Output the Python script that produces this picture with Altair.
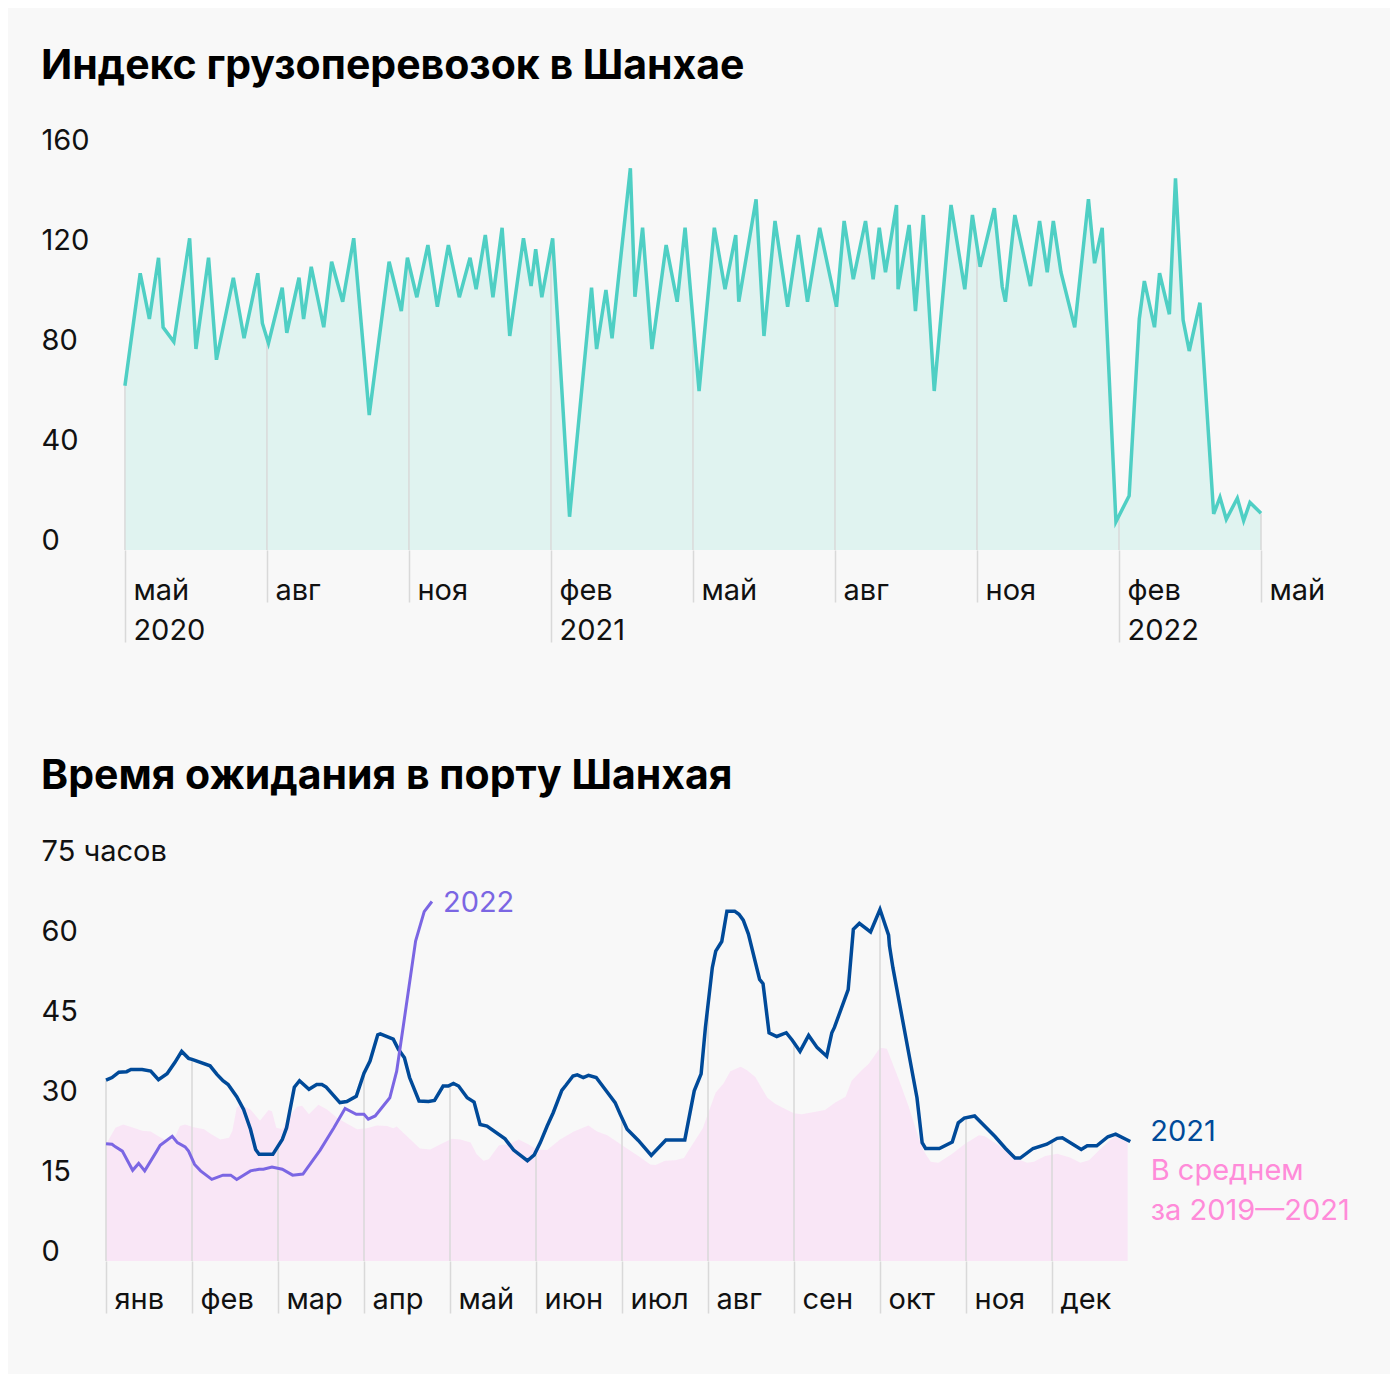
import calendar
import json

import altair as alt
import numpy as np
import pandas as pd

FONT = "Inter"
BG = "#f8f8f8"
TXT = "#111111"
GRID = "#d9d9d9"
TEAL = "#4fcfc4"
TEAL_FILL = "#e0f3f0"
BLUE = "#004a99"
PURPLE = "#7b66e3"
PINK_FILL = "#f9e6f6"
PINK_TXT = "#ff8bd9"

# ---------------- Top chart: freight index (dates, values) ----------------
freight_dates = [
    "2020-05-01", "2020-05-11", "2020-05-17", "2020-05-23", "2020-05-26",
    "2020-06-02", "2020-06-12", "2020-06-16", "2020-06-24", "2020-06-29",
    "2020-07-10", "2020-07-17", "2020-07-26", "2020-07-29", "2020-08-02",
    "2020-08-11", "2020-08-14", "2020-08-22", "2020-08-25", "2020-08-30",
    "2020-09-07", "2020-09-12", "2020-09-19", "2020-09-26", "2020-10-06",
    "2020-10-19", "2020-10-27", "2020-10-31", "2020-11-06", "2020-11-13",
    "2020-11-19", "2020-11-26", "2020-12-03", "2020-12-10", "2020-12-14",
    "2020-12-20", "2020-12-25", "2020-12-31", "2021-01-05", "2021-01-14",
    "2021-01-19", "2021-01-22", "2021-01-26", "2021-02-02", "2021-02-12",
    "2021-02-25", "2021-02-28", "2021-03-06", "2021-03-10", "2021-03-22",
    "2021-03-25", "2021-03-30", "2021-04-05", "2021-04-14", "2021-04-21",
    "2021-04-26", "2021-05-05", "2021-05-15", "2021-05-22", "2021-05-29",
    "2021-05-31", "2021-06-11", "2021-06-16", "2021-06-23", "2021-07-01",
    "2021-07-08", "2021-07-14", "2021-07-22", "2021-08-02", "2021-08-07",
    "2021-08-13", "2021-08-21", "2021-08-26", "2021-08-30", "2021-09-03",
    "2021-09-10", "2021-09-11", "2021-09-18", "2021-09-22", "2021-09-27",
    "2021-10-04", "2021-10-15", "2021-10-24", "2021-10-29", "2021-11-03",
    "2021-11-12", "2021-11-17", "2021-11-19", "2021-11-25", "2021-12-05",
    "2021-12-11", "2021-12-16", "2021-12-20", "2021-12-25", "2022-01-03",
    "2022-01-12", "2022-01-16", "2022-01-21", "2022-01-30", "2022-02-07",
    "2022-02-13", "2022-02-16", "2022-02-22", "2022-02-25", "2022-03-03",
    "2022-03-07", "2022-03-12", "2022-03-16", "2022-03-23", "2022-04-01",
    "2022-04-05", "2022-04-09", "2022-04-16", "2022-04-20", "2022-04-24",
    "2022-05-01",
]
freight_index = [
    65.7, 110.7, 92.4, 116.9, 89.1,
    83.3, 124.7, 80.4, 116.9, 76.1,
    108.9, 84.7, 110.7, 90.7, 82.7,
    104.9, 86.9, 108.9, 92.4, 113.3,
    89.1, 115.3, 99.3, 124.7, 54.0,
    115.3, 95.6, 116.9, 101.1, 122.0,
    97.3, 122.0, 101.1, 116.9, 104.3,
    126.0, 101.1, 128.9, 85.6, 124.7,
    105.6, 120.3, 101.1, 124.7, 13.3,
    104.9, 80.4, 104.0, 84.7, 152.7,
    101.3, 128.9, 80.4, 122.0, 99.3,
    128.9, 63.6, 128.9, 104.3, 126.0,
    99.3, 140.3, 85.6, 131.6, 97.3,
    126.0, 99.3, 128.9, 97.3, 131.6,
    108.3, 131.6, 108.3, 128.9, 111.1,
    138.0, 104.3, 130.0, 95.6, 134.0,
    63.6, 138.0, 104.3, 134.0, 113.3,
    136.7, 105.3, 99.3, 134.0, 105.6,
    131.6, 111.1, 131.6, 111.1, 89.1,
    140.3, 114.7, 128.9, 11.3, 21.7,
    92.4, 107.6, 89.1, 110.7, 94.3,
    148.7, 92.0, 79.6, 98.9, 14.4,
    21.1, 12.3, 20.7, 11.7, 19.0,
    14.7,
]

top_ticks = list(range(0, 25, 3))  # months since May 2020
top_tick_labels = [["май", "2020"], "авг", "ноя", ["фев", "2021"], "май",
                   "авг", "ноя", ["фев", "2022"], "май"]
top_y_ticks = [0, 40, 80, 120, 160]

# ---------------- Bottom chart: waiting time (fractional month of year) ----------------
wait21_month = [
    0.00, 0.07, 0.15, 0.24, 0.29, 0.42, 0.52, 0.61, 0.71, 0.80,
    0.88, 0.96, 1.00, 1.21, 1.29, 1.36, 1.42, 1.52, 1.60, 1.68,
    1.74, 1.78, 1.94, 2.05, 2.10, 2.19, 2.25, 2.36, 2.45, 2.51,
    2.56, 2.72, 2.80, 2.91, 3.00, 3.07, 3.16, 3.19, 3.34, 3.40,
    3.47, 3.53, 3.64, 3.75, 3.82, 3.92, 3.98, 4.04, 4.10, 4.20,
    4.28, 4.35, 4.43, 4.64, 4.74, 4.90, 4.98, 5.05, 5.13, 5.20,
    5.30, 5.35, 5.43, 5.48, 5.55, 5.61, 5.70, 5.84, 5.92, 5.98,
    6.06, 6.19, 6.34, 6.51, 6.73, 6.84, 6.92, 6.97, 7.05, 7.09,
    7.16, 7.22, 7.31, 7.36, 7.41, 7.47, 7.60, 7.64, 7.71, 7.80,
    7.91, 7.98, 8.07, 8.17, 8.27, 8.38, 8.44, 8.47, 8.63, 8.69,
    8.76, 8.89, 9.00, 9.10, 9.11, 9.15, 9.43, 9.49, 9.53, 9.69,
    9.84, 9.91, 9.98, 10.10, 10.34, 10.46, 10.57, 10.63, 10.78, 10.94,
    11.06, 11.12, 11.34, 11.41, 11.52, 11.65, 11.74, 11.91,
]
wait21_hours = [
    33.9, 34.4, 35.4, 35.5, 35.9, 35.9, 35.6, 34.0, 35.1, 37.2,
    39.3, 38.0, 37.8, 36.6, 35.0, 33.8, 33.1, 30.8, 28.4, 24.7,
    20.9, 20.0, 20.0, 22.8, 25.0, 32.6, 33.8, 32.2, 33.1, 33.1,
    32.6, 29.7, 29.9, 30.9, 35.2, 37.5, 42.4, 42.6, 41.6, 39.7,
    38.1, 34.4, 30.0, 29.9, 30.1, 32.8, 32.8, 33.3, 32.8, 30.6,
    29.8, 25.6, 25.3, 22.9, 20.8, 18.8, 19.9, 22.2, 25.3, 27.8,
    32.0, 33.0, 34.7, 34.9, 34.4, 34.8, 34.4, 31.4, 29.7, 27.5,
    24.7, 22.6, 19.8, 22.7, 22.7, 31.9, 35.1, 43.8, 55.0, 58.1,
    59.9, 65.6, 65.6, 65.0, 63.9, 61.3, 52.8, 52.0, 42.8, 42.1,
    42.8, 41.4, 39.3, 42.3, 40.0, 38.4, 42.8, 43.8, 50.9, 62.2,
    63.3, 61.7, 65.9, 61.1, 59.1, 55.0, 30.6, 22.2, 21.1, 21.1,
    22.3, 25.9, 26.8, 27.2, 23.3, 21.1, 19.3, 19.3, 21.1, 21.9,
    23.0, 23.1, 20.9, 21.6, 21.6, 23.3, 23.8, 22.4,
]
wait22_month = [
    0.00, 0.07, 0.11, 0.19, 0.31, 0.38, 0.45, 0.59, 0.63, 0.77,
    0.83, 0.92, 0.96, 1.03, 1.10, 1.23, 1.36, 1.45, 1.52, 1.68,
    1.78, 1.83, 1.93, 2.05, 2.17, 2.29, 2.49, 2.65, 2.78, 2.91,
    3.00, 3.05, 3.13, 3.30, 3.38, 3.46, 3.60, 3.70, 3.79,
]
wait22_hours = [
    22.0, 21.9, 21.4, 20.6, 17.0, 18.3, 16.9, 20.6, 21.7, 23.4,
    22.2, 21.4, 20.6, 18.1, 16.9, 15.3, 16.1, 16.1, 15.3, 16.9,
    17.2, 17.2, 17.6, 17.2, 16.1, 16.3, 20.8, 25.0, 28.6, 27.5,
    27.5, 26.6, 27.2, 30.6, 35.6, 44.4, 60.0, 65.5, 67.4,
]
avg_month = [
    0.00, 0.11, 0.20, 0.32, 0.42, 0.52, 0.61, 0.71, 0.79, 0.86,
    0.92, 1.02, 1.14, 1.21, 1.33, 1.43, 1.47, 1.52, 1.56, 1.68,
    1.79, 1.89, 1.93, 1.98, 2.05, 2.10, 2.22, 2.28, 2.36, 2.47,
    2.57, 2.69, 2.80, 2.92, 3.03, 3.15, 3.27, 3.34, 3.38, 3.54,
    3.65, 3.77, 3.89, 4.02, 4.12, 4.24, 4.31, 4.39, 4.45, 4.57,
    4.68, 4.80, 4.91, 5.01, 5.13, 5.28, 5.44, 5.61, 5.71, 5.83,
    5.92, 6.04, 6.19, 6.33, 6.39, 6.50, 6.62, 6.72, 6.81, 6.94,
    7.01, 7.09, 7.18, 7.26, 7.38, 7.45, 7.55, 7.69, 7.78, 7.92,
    8.00, 8.09, 8.25, 8.36, 8.48, 8.60, 8.67, 8.79, 8.87, 9.00,
    9.08, 9.22, 9.33, 9.45, 9.51, 9.59, 9.68, 9.84, 9.99, 10.15,
    10.22, 10.38, 10.55, 10.71, 10.79, 10.92, 11.06, 11.21, 11.33, 11.43,
    11.55, 11.67, 11.74, 11.88,
]
avg_hours = [
    21.9, 25.0, 25.6, 25.0, 24.4, 24.3, 23.4, 22.5, 22.8, 25.3,
    25.6, 25.1, 24.7, 23.9, 22.8, 23.1, 24.4, 28.8, 29.3, 28.4,
    26.3, 28.3, 28.1, 25.0, 24.7, 26.4, 28.9, 29.1, 27.5, 29.3,
    28.4, 26.8, 25.8, 24.7, 24.9, 25.4, 25.3, 24.9, 25.2, 22.8,
    21.1, 20.9, 21.9, 22.9, 22.8, 22.2, 20.0, 18.8, 19.1, 21.7,
    21.9, 22.8, 21.9, 20.9, 20.8, 22.8, 24.3, 25.4, 24.3, 23.6,
    22.6, 21.3, 19.7, 18.1, 18.0, 18.8, 18.9, 19.3, 21.6, 24.9,
    28.1, 31.6, 33.3, 35.6, 36.4, 35.8, 34.5, 30.6, 29.5, 28.3,
    27.7, 27.5, 28.0, 28.3, 29.7, 30.8, 33.8, 35.8, 37.0, 40.0,
    39.8, 34.0, 29.1, 23.1, 20.6, 18.6, 18.4, 20.1, 22.0, 23.6,
    23.4, 21.7, 19.4, 18.4, 18.6, 19.7, 20.1, 19.4, 18.4, 18.9,
    20.8, 22.6, 23.4, 22.2,
]
month_names = ["янв", "фев", "мар", "апр", "май", "июн",
               "июл", "авг", "сен", "окт", "ноя", "дек"]
bottom_x_ticks = list(range(12))
bottom_y_ticks = [0, 15, 30, 45, 60, 75]


def months_since_may_2020(s):
    y, m, d = (int(p) for p in s.split("-"))
    return (y - 2020) * 12 + (m - 5) + (d - 1) / calendar.monthrange(y, m)[1]


top_df = pd.DataFrame({"t": [months_since_may_2020(d) for d in freight_dates],
                       "v": freight_index})
top_rule_df = pd.DataFrame({"t": top_ticks,
                            "v": np.interp(top_ticks, top_df["t"], top_df["v"])})

d21 = pd.DataFrame({"t": wait21_month, "v": wait21_hours})
d22 = pd.DataFrame({"t": wait22_month, "v": wait22_hours})
davg = pd.DataFrame({"t": avg_month, "v": avg_hours})
bottom_rule_df = pd.DataFrame({"t": bottom_x_ticks,
                               "v": np.interp(bottom_x_ticks, d21["t"], d21["v"])})

LABEL_SIZE = 29
YEAR_TEST = "datum.value == 0 || datum.value == 9 || datum.value == 21"

x_top = alt.X(
    "t:Q",
    scale=alt.Scale(domain=[-0.4, 24], nice=False, zero=False),
    axis=alt.Axis(
        values=top_ticks,
        labelExpr=json.dumps(top_tick_labels, ensure_ascii=False) + "[round(datum.value / 3)]",
        title=None, grid=False, domain=False, ticks=True,
        tickColor=GRID, tickWidth=1.5,
        tickSize={"condition": {"test": YEAR_TEST, "value": 92}, "value": 52},
        labelPadding={"condition": {"test": YEAR_TEST, "value": -66}, "value": -26},
        labelAlign="left", labelBaseline="top", labelOffset=8,
        labelFlush=False, labelOverlap=False,
        labelFont=FONT, labelFontSize=LABEL_SIZE, labelColor=TXT, labelLineHeight=40,
    ),
)
y_top = alt.Y(
    "v:Q",
    scale=alt.Scale(domain=[0, 160], nice=False),
    axis=alt.Axis(
        values=top_y_ticks, title=None, grid=False, domain=False, ticks=False,
        labelAlign="left", labelBaseline="middle", labelPadding=65, labelOffset=-10,
        labelFont=FONT, labelFontSize=LABEL_SIZE, labelColor=TXT,
    ),
)

top_area = alt.Chart(top_df).mark_area(color=TEAL_FILL).encode(x=x_top, y=y_top)
top_rules = alt.Chart(top_rule_df).mark_rule(color=GRID, strokeWidth=1.5).encode(
    x=x_top, y=y_top, y2=alt.datum(0))
top_line = alt.Chart(top_df).mark_line(color=TEAL, strokeWidth=3.5).encode(x=x_top, y=y_top)

top = alt.layer(top_area, top_rules, top_line).properties(
    width=1155, height=400,
    title=alt.TitleParams("Индекс грузоперевозок в Шанхае", anchor="start", font=FONT,
                          fontSize=41, fontWeight="bold", color="#000000", offset=38),
)

x_bot = alt.X(
    "t:Q",
    scale=alt.Scale(domain=[0, 12], nice=False, zero=False),
    axis=alt.Axis(
        values=bottom_x_ticks,
        labelExpr=json.dumps(month_names, ensure_ascii=False) + "[round(datum.value)]",
        title=None, grid=False, domain=False, ticks=True,
        tickColor=GRID, tickWidth=1.5, tickSize=52, labelPadding=-28,
        labelAlign="left", labelBaseline="top", labelOffset=8,
        labelFlush=False, labelOverlap=False,
        labelFont=FONT, labelFontSize=LABEL_SIZE, labelColor=TXT,
    ),
)
y_bot = alt.Y(
    "v:Q",
    scale=alt.Scale(domain=[0, 75], nice=False),
    axis=alt.Axis(
        values=bottom_y_ticks, title=None, grid=False, domain=False, ticks=False,
        labelExpr="datum.value == 75 ? '75 часов' : datum.label",
        labelAlign="left", labelBaseline="middle", labelPadding=65, labelOffset=-10,
        labelFont=FONT, labelFontSize=LABEL_SIZE, labelColor=TXT,
    ),
)

avg_area = alt.Chart(davg).mark_area(color=PINK_FILL).encode(x=x_bot, y=y_bot)
bot_rules = alt.Chart(bottom_rule_df).mark_rule(color=GRID, strokeWidth=1.5).encode(
    x=x_bot, y=y_bot, y2=alt.datum(0))
line21 = alt.Chart(d21).mark_line(color=BLUE, strokeWidth=3.5).encode(x=x_bot, y=y_bot)
line22 = alt.Chart(d22).mark_line(color=PURPLE, strokeWidth=3).encode(x=x_bot, y=y_bot)

lab22 = alt.Chart(d22.tail(1).assign(label="2022")).mark_text(
    align="left", baseline="middle", dx=11, dy=1, font=FONT, fontSize=LABEL_SIZE,
    color=PURPLE).encode(x=x_bot, y=y_bot, text="label:N")
lab21 = alt.Chart(d21.tail(1).assign(label="2021")).mark_text(
    align="left", baseline="middle", dx=20, dy=-10, font=FONT, fontSize=LABEL_SIZE,
    color=BLUE).encode(x=x_bot, y=y_bot, text="label:N")
labavg = alt.Chart(davg.tail(1).assign(label="В среднем\nза 2019—2021")).mark_text(
    align="left", baseline="middle", dx=23, dy=28, font=FONT, fontSize=LABEL_SIZE,
    lineBreak="\n", lineHeight=40, color=PINK_TXT).encode(x=x_bot, y=y_bot, text="label:N")

bottom = alt.layer(avg_area, bot_rules, line21, line22, lab22, lab21, labavg).properties(
    width=1032, height=400,
    title=alt.TitleParams("Время ожидания в порту Шанхая", anchor="start", font=FONT,
                          fontSize=41, fontWeight="bold", color="#000000", offset=39),
)

chart = (
    alt.vconcat(top, bottom, spacing=111)
    .properties(padding={"left": 33, "top": 38, "right": 40, "bottom": 60}, background=BG)
    .configure(font=FONT)
    .configure_view(strokeWidth=0, stroke="transparent")
)

chart.save("out.html", embed_options={"renderer": "svg", "actions": False})
